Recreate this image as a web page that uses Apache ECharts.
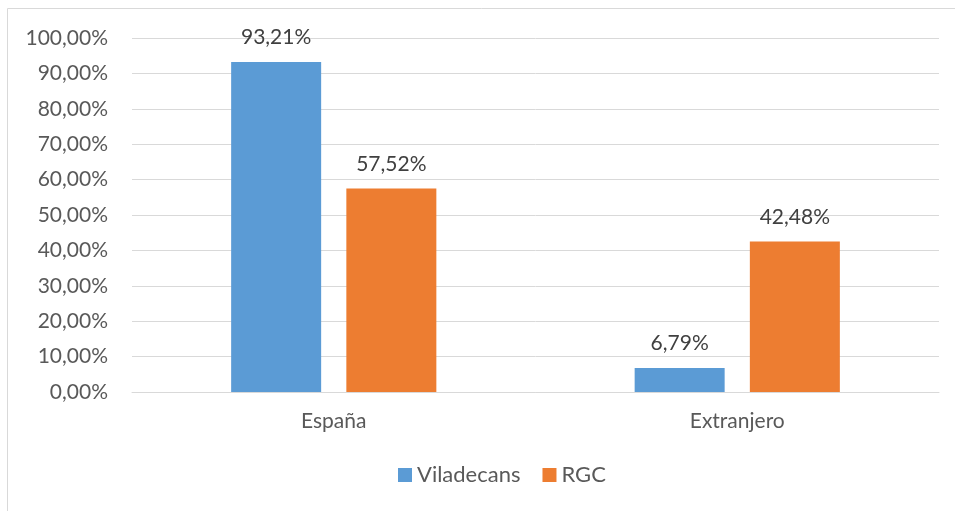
<!DOCTYPE html>
<html>
<head>
<meta charset="utf-8">
<script src="https://cdn.jsdelivr.net/npm/echarts@6/dist/echarts.min.js"></script>
<style>
  html, body { margin: 0; padding: 0; background: #fff; }
  #chart { width: 955px; height: 511px; }
</style>
</head>
<body>
<div id="chart"></div>
<script>
// datos del gráfico
const categories = ['España', 'Extranjero']
const viladecans = [93.21, 6.79]
const rgc = [57.52, 42.48]
const seriesNames = ['Viladecans', 'RGC']

const chart = echarts.init(document.getElementById('chart'))

// formato con coma decimal
const pct = v => v.toFixed(2).replace('.', ',') + '%'

const labelStyle = {
  show: true,
  position: 'top',
  distance: 14,
  color: '#404040',
  fontSize: 21,
  fontFamily: 'Lato',
  formatter: p => pct(p.value)
}

const option = {
  animation: false,
  textStyle: { fontFamily: 'Lato' },
  graphic: [{
    type: 'rect',
    shape: { x: 7.5, y: 8.5, width: 1000, height: 600 },
    style: { fill: 'none', stroke: '#D9D9D9', lineWidth: 1 },
    silent: true
  }],
  grid: { left: 132, right: 16, top: 38, bottom: 119 },
  legend: {
    top: 459,
    left: 393,
    icon: 'rect',
    itemWidth: 14,
    itemHeight: 14,
    itemGap: 22,
    textStyle: { color: '#595959', fontSize: 22, fontFamily: 'Lato' },
    data: seriesNames
  },
  xAxis: {
    type: 'category',
    data: categories,
    axisLine: { lineStyle: { color: '#D9D9D9', width: 1 } },
    axisTick: { show: false },
    axisLabel: { color: '#595959', fontSize: 21, margin: 19 }
  },
  yAxis: {
    type: 'value',
    min: 0,
    max: 100,
    interval: 10,
    axisLine: { show: false },
    axisTick: { show: false },
    splitLine: { lineStyle: { color: '#D9D9D9', width: 1 } },
    axisLabel: { color: '#595959', fontSize: 21, margin: 24, formatter: v => pct(v) }
  },
  series: [
    {
      name: seriesNames[0],
      type: 'bar',
      data: viladecans,
      barWidth: 90,
      barGap: '28%',
      itemStyle: { color: '#5B9BD5' },
      label: labelStyle
    },
    {
      name: seriesNames[1],
      type: 'bar',
      data: rgc,
      barWidth: 90,
      itemStyle: { color: '#ED7D31' },
      label: labelStyle
    }
  ]
}

chart.setOption(option)
</script>
</body>
</html>
